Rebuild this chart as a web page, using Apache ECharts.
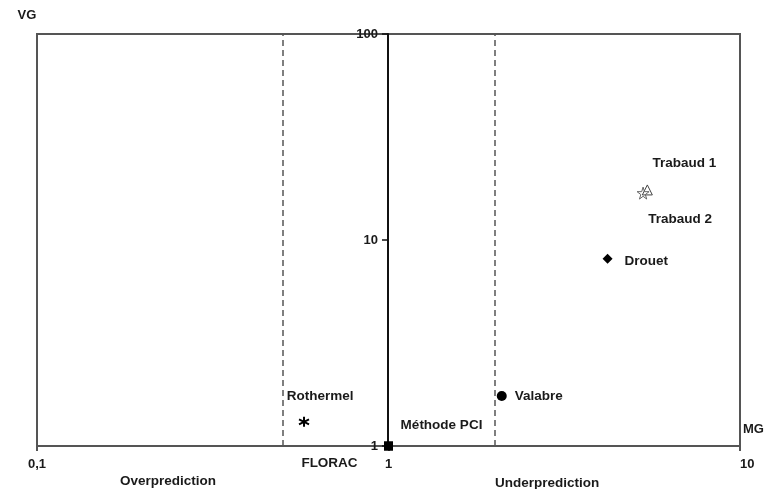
<!DOCTYPE html>
<html><head><meta charset="utf-8">
<script src="https://cdn.jsdelivr.net/npm/echarts@6/dist/echarts.min.js"></script>
<style>html,body{margin:0;padding:0;background:#fff}#c{width:767px;height:489px}</style>
</head><body><div id="c"></div>
<script>
// Data
const names = ['Trabaud 1', 'Trabaud 2', 'Drouet', 'Valabre', 'Rothermel', 'Méthode PCI', 'FLORAC'];
const mgValues = [5.45, 5.3, 4.2, 2.1, 0.575, 1, 1];
const vgValues = [17.5, 16.9, 8.1, 1.75, 1.31, 1, 1];
const xTicks = [0.1, 1, 10];
const yTicks = [1, 10, 100];
const refLines = [0.5, 2];

// Styles (presentation only)
const F = 'Liberation Sans, Arial, sans-serif';
const txt = {fontFamily: F, fontWeight: 'bold', fontSize: 13, color: '#1a1a1a'};
const ltxt = Object.assign({}, txt, {fontSize: 13.5});
const styles = {
  'Trabaud 1': {symbol: 'triangle', size: 10, item: {color: 'transparent', borderColor: '#444', borderWidth: 1}, label: {position: 'inside', offset: [37, -27]}},
  'Trabaud 2': {symbol: 'path://M50,0 L61,35 L98,35 L68,57 L79,91 L50,70 L21,91 L32,57 L2,35 L39,35 Z', size: 12, item: {color: 'transparent', borderColor: '#666', borderWidth: 1}, label: {position: 'inside', offset: [37, 26]}},
  'Drouet': {symbol: 'diamond', size: 10, item: {color: '#000'}, label: {position: 'right', distance: 12, offset: [0, 2]}},
  'Valabre': {symbol: 'circle', size: 10, item: {color: '#000'}, label: {position: 'right', distance: 8, offset: [0, 0]}},
  'Rothermel': {symbol: 'path://M50,0 L50,100 M7,25 L93,75 M93,25 L7,75', size: 10, item: {color: 'transparent', borderColor: '#000', borderWidth: 2}, label: {position: 'inside', offset: [16, -26]}},
  'Méthode PCI': {symbol: 'rect', size: 9, item: {color: '#000'}, label: {position: 'inside', offset: [53, -21]}},
  'FLORAC': {symbol: 'rect', size: 9, item: {color: '#000'}, label: {position: 'inside', offset: [-59, 17]}}
};

const series = names.map((n, i) => {
  const s = styles[n];
  return {
    type: 'scatter', name: n, xAxisIndex: 0, yAxisIndex: 0, clip: false,
    symbol: s.symbol, symbolSize: s.size, itemStyle: Object.assign({opacity: 1}, s.item),
    label: Object.assign({show: true, formatter: n}, ltxt, s.label),
    data: [[mgValues[i], vgValues[i]]],
    z: 5
  };
});
series.push({
  type: 'line', xAxisIndex: 0, yAxisIndex: 0, data: [], symbol: 'none',
  markLine: {
    silent: true, symbol: 'none', label: {show: false},
    lineStyle: {type: [6, 4], color: '#555', width: 1.5},
    data: refLines.map(v => ({xAxis: v}))
  }
});

const fmt = v => String(+v.toPrecision(6)).replace('.', ',');

const chart = echarts.init(document.getElementById('c'));
chart.setOption({
  animation: false,
  backgroundColor: '#fff',
  grid: [
    {left: 37, right: 27, top: 34, bottom: 43, show: true, borderColor: '#555', borderWidth: 2, backgroundColor: 'transparent'},
    {left: 388, right: 27, top: 34, bottom: 43}
  ],
  xAxis: [
    {type: 'log', logBase: 10, min: xTicks[0], max: xTicks[2], gridIndex: 0,
     axisLine: {show: false}, splitLine: {show: false},
     axisTick: {show: true, length: 5, lineStyle: {color: '#555', width: 2}},
     axisLabel: Object.assign({margin: 12, formatter: fmt, alignMaxLabel: 'left'}, txt),
     name: 'MG', nameLocation: 'end', nameGap: 3,
     nameTextStyle: Object.assign({align: 'left', verticalAlign: 'bottom', padding: [0, 0, 10, 0]}, txt)},
    {type: 'log', logBase: 10, min: 1, max: 10, gridIndex: 1, show: false}
  ],
  yAxis: [
    {type: 'log', logBase: 10, min: yTicks[0], max: yTicks[2], gridIndex: 0,
     axisLine: {show: false}, axisTick: {show: false}, axisLabel: {show: false}, splitLine: {show: false},
     name: 'VG', nameLocation: 'end', nameGap: 12,
     nameTextStyle: Object.assign({align: 'center', verticalAlign: 'bottom', padding: [0, 20, 0, 0]}, txt)},
    {type: 'log', logBase: 10, min: yTicks[0], max: yTicks[2], gridIndex: 1,
     axisLine: {show: true, lineStyle: {color: '#111', width: 2}},
     axisTick: {show: true, length: 6, lineStyle: {color: '#111', width: 1.5}},
     axisLabel: Object.assign({margin: 10, formatter: fmt}, txt),
     splitLine: {show: false}}
  ],
  graphic: [
    {type: 'text', left: 120, top: 474, style: {text: 'Overprediction', font: 'bold 13.5px ' + F, fill: '#1a1a1a'}},
    {type: 'text', left: 495, top: 476, style: {text: 'Underprediction', font: 'bold 13.5px ' + F, fill: '#1a1a1a'}}
  ],
  series: series
});
</script></body></html>
